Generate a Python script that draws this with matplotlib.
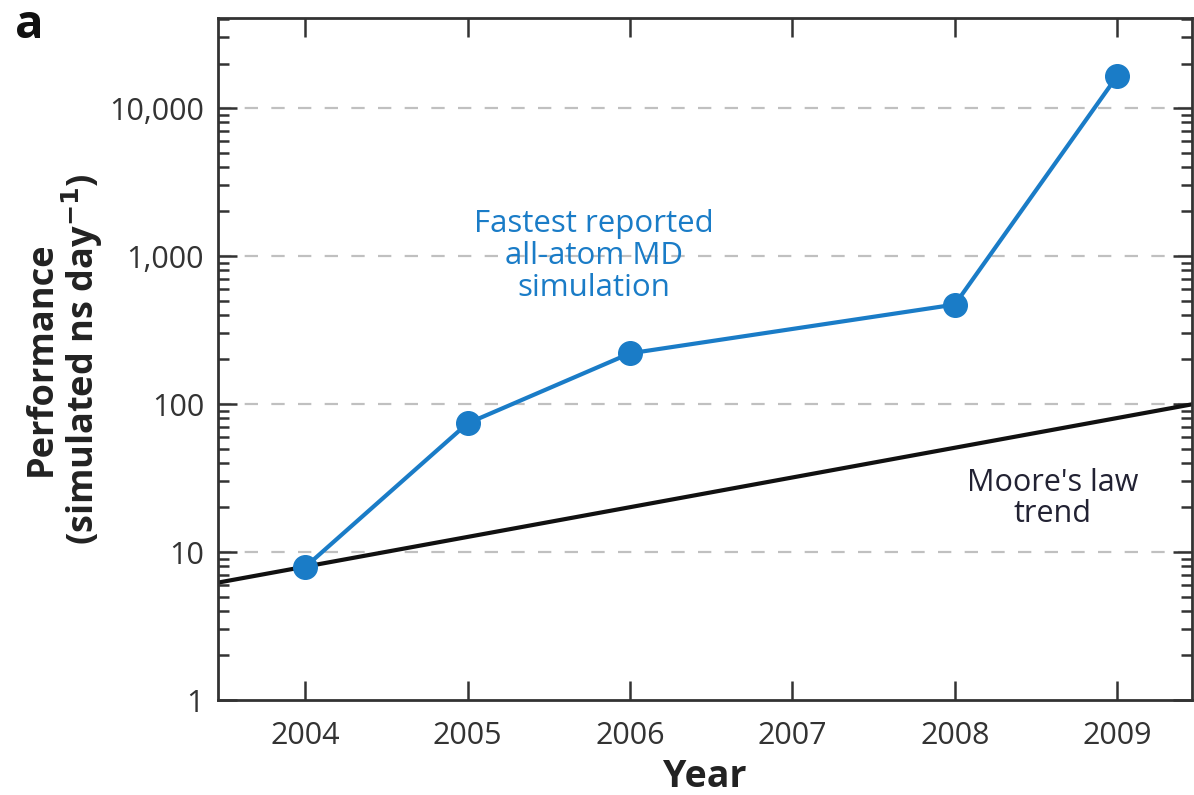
import matplotlib
matplotlib.use("Agg")
import matplotlib.pyplot as plt
import numpy as np
from matplotlib.ticker import FixedLocator, FixedFormatter, LogLocator, NullFormatter

# data
years = [2004, 2005, 2006, 2008, 2009]
perf = [7.9, 74, 220, 470, 16500]          # simulated ns/day
moore_years = [2003.46, 2009.47]
moore_perf = [6.2, 100]

year_ticks = [2004, 2005, 2006, 2007, 2008, 2009]
y_ticks = [1, 10, 100, 1000, 10000]
y_labels = ["1", "10", "100", "1,000", "10,000"]

blue = "#1a7cc7"
dark = "#333333"

plt.rcParams['font.family'] = ['Open Sans', 'DejaVu Sans']

fig = plt.figure(figsize=(11.94, 7.95), dpi=100)
ax = fig.add_axes([218/1194, 95/795, (1192-218)/1194, 682/795])

ax.set_yscale('log')
ax.set_xlim(2003.464, 2009.46)
ax.set_ylim(1, 40600)

# grid at decades (not at 1)
for v in y_ticks[1:]:
    ax.axhline(v, color='#c0c0c0', lw=1.6, ls=(0, (6, 6)), zorder=1)

ax.plot(moore_years, moore_perf, color='#111111', lw=3, zorder=2, solid_capstyle='butt')
ax.plot(years, perf, color=blue, lw=3, marker='o', ms=17, zorder=3)

ax.xaxis.set_major_locator(FixedLocator(year_ticks))
ax.xaxis.set_major_formatter(FixedFormatter([str(y) for y in year_ticks]))
ax.yaxis.set_major_locator(FixedLocator(y_ticks))
ax.yaxis.set_major_formatter(FixedFormatter(y_labels))
ax.yaxis.set_minor_locator(LogLocator(base=10, subs=np.arange(2, 10)))
ax.yaxis.set_minor_formatter(NullFormatter())

ax.tick_params(axis='both', which='major', direction='in', length=14, width=1.8,
               color=dark, labelsize=22, labelcolor=dark, top=True, right=True)
ax.tick_params(axis='y', which='minor', direction='in', length=8, width=1.8,
               color=dark, right=True)
ax.tick_params(axis='x', which='major', pad=15)
ax.tick_params(axis='y', which='major', pad=10)

for s in ax.spines.values():
    s.set_color(dark)
    s.set_linewidth(2)

ax.set_xlabel("Year", fontsize=27, fontweight='bold', color='#222222', labelpad=5)
ax.set_ylabel("Performance\n(simulated ns day$^{\\mathbf{-1}}$)", fontsize=26,
              fontweight='bold', color='#222222', labelpad=3, linespacing=1.0)

ax.text(2005.78, 1000, "Fastest reported\nall-atom MD\nsimulation", color=blue,
        fontsize=22.5, ha='center', va='center', linespacing=1.1)
ax.text(2008.6, 23, "Moore's law\ntrend", color='#222233',
        fontsize=22, ha='center', va='center', linespacing=1.08)

fig.text(15/1194, 1 - 25/795, "a", fontsize=34, fontweight='bold', color='#111111',
         ha='left', va='center')

fig.savefig("out.png", dpi=100)
